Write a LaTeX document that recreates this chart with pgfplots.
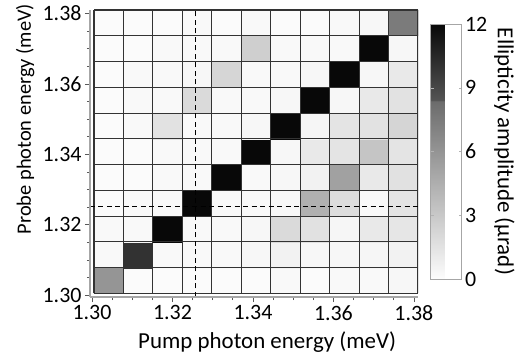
\documentclass[border=0pt]{standalone}
\usepackage{fontspec}
\setmainfont{Carlito}
\usepackage{pgfplots}
\pgfplotsset{compat=1.18}
\begin{document}
\begin{tikzpicture}
\begin{axis}[
  name=main,
  scale only axis,
  width=328bp, height=287bp,
  xmin=1.2995, xmax=1.38102, ymin=1.2995, ymax=1.38102,
  axis x line*=bottom, axis y line*=left,
  xtick={1.30,1.32,1.34,1.36,1.38},
  ytick={1.30,1.32,1.34,1.36,1.38},
  minor tick num=3,
  tick align=outside,
  major tick length=5bp, minor tick length=3bp,
  tick style={gray!70!black, line width=0.8bp},
  axis line style={gray!70, line width=1.2bp},
  /pgf/number format/assume math mode=true,
  xticklabel style={/pgf/number format/fixed, /pgf/number format/fixed zerofill, /pgf/number format/precision=2},
  yticklabel style={/pgf/number format/fixed, /pgf/number format/fixed zerofill, /pgf/number format/precision=2},
  every tick label/.append style={font=\fontsize{22}{24}\selectfont},
  xlabel={Pump photon energy (meV)},
  ylabel={Probe photon energy (meV)},
  xlabel style={font=\fontsize{23}{26}\selectfont, at={(axis description cs:0.54,-0.178)}, anchor=base},
  ylabel style={font=\fontsize{20.5}{24}\selectfont, at={(axis description cs:-0.18,0.62)}, anchor=base, rotate=0},
  colormap={ell}{gray(0cm)=(0.99); gray(8.4cm)=(0.42); gray(8.41cm)=(0.33); gray(12cm)=(0.03)},
  point meta min=0, point meta max=12,
  axis on top,
  colorbar,
  colorbar style={
    width=31bp, height=255bp,
    at={(parent axis.east)}, anchor=west, xshift=4bp, yshift=2bp,
    minor tick num=0,
    ytick={0,3,6,9,12},
    yticklabels={0,3,6,9,12},
    yticklabel style={font=\fontsize{22}{24}\selectfont},
    ylabel={Ellipticity amplitude (µrad)},
    ylabel style={font=\fontsize{23}{26}\selectfont, rotate=180},
    axis line style={gray!70, line width=0.8bp},
    major tick length=3bp,
    tick style={gray!60},
  },
]
\addplot[matrix plot*, mesh/cols=11, point meta=explicit] table[meta=v] {
x y v
1.30416 1.30416 6.0
1.31148 1.30416 0.1
1.31880 1.30416 0.1
1.32612 1.30416 0.1
1.33344 1.30416 0.1
1.34076 1.30416 0.1
1.34808 1.30416 0.2
1.35540 1.30416 0.1
1.36272 1.30416 0.2
1.37004 1.30416 0.2
1.37736 1.30416 0.3
1.30416 1.31148 0.2
1.31148 1.31148 10.0
1.31880 1.31148 0.2
1.32612 1.31148 0.2
1.33344 1.31148 0.2
1.34076 1.31148 0.3
1.34808 1.31148 0.6
1.35540 1.31148 0.3
1.36272 1.31148 0.3
1.37004 1.31148 0.4
1.37736 1.31148 0.6
1.30416 1.31880 0.2
1.31148 1.31880 0.2
1.31880 1.31880 12
1.32612 1.31880 0.2
1.33344 1.31880 0.2
1.34076 1.31880 0.3
1.34808 1.31880 2.0
1.35540 1.31880 1.6
1.36272 1.31880 0.4
1.37004 1.31880 1.1
1.37736 1.31880 1.3
1.30416 1.32612 0.1
1.31148 1.32612 0.2
1.31880 1.32612 0.2
1.32612 1.32612 12
1.33344 1.32612 0.2
1.34076 1.32612 0.2
1.34808 1.32612 0.3
1.35540 1.32612 4.4
1.36272 1.32612 1.8
1.37004 1.32612 0.2
1.37736 1.32612 1.4
1.30416 1.33344 0.1
1.31148 1.33344 0.1
1.31880 1.33344 0.2
1.32612 1.33344 0.2
1.33344 1.33344 12
1.34076 1.33344 0.2
1.34808 1.33344 0.3
1.35540 1.33344 0.6
1.36272 1.33344 5.3
1.37004 1.33344 1.1
1.37736 1.33344 1.6
1.30416 1.34076 0.1
1.31148 1.34076 0.1
1.31880 1.34076 0.2
1.32612 1.34076 0.2
1.33344 1.34076 0.2
1.34076 1.34076 12
1.34808 1.34076 0.3
1.35540 1.34076 1.1
1.36272 1.34076 1.4
1.37004 1.34076 3.2
1.37736 1.34076 1.4
1.30416 1.34808 0.1
1.31148 1.34808 0.2
1.31880 1.34808 1.5
1.32612 1.34808 0.2
1.33344 1.34808 0.2
1.34076 1.34808 0.3
1.34808 1.34808 12
1.35540 1.34808 0.4
1.36272 1.34808 1.4
1.37004 1.34808 1.5
1.37736 1.34808 2.3
1.30416 1.35540 0.1
1.31148 1.35540 0.2
1.31880 1.35540 0.2
1.32612 1.35540 2.0
1.33344 1.35540 0.2
1.34076 1.35540 0.2
1.34808 1.35540 0.3
1.35540 1.35540 12
1.36272 1.35540 0.3
1.37004 1.35540 1.1
1.37736 1.35540 1.5
1.30416 1.36272 0.1
1.31148 1.36272 0.2
1.31880 1.36272 0.2
1.32612 1.36272 0.3
1.33344 1.36272 2.2
1.34076 1.36272 0.2
1.34808 1.36272 0.2
1.35540 1.36272 0.3
1.36272 1.36272 12
1.37004 1.36272 0.3
1.37736 1.36272 1.1
1.30416 1.37004 0.1
1.31148 1.37004 0.1
1.31880 1.37004 0.2
1.32612 1.37004 0.2
1.33344 1.37004 0.2
1.34076 1.37004 2.6
1.34808 1.37004 0.2
1.35540 1.37004 0.2
1.36272 1.37004 0.2
1.37004 1.37004 12
1.37736 1.37004 0.3
1.30416 1.37736 0.1
1.31148 1.37736 0.1
1.31880 1.37736 0.1
1.32612 1.37736 0.2
1.33344 1.37736 0.1
1.34076 1.37736 0.2
1.34808 1.37736 0.1
1.35540 1.37736 0.1
1.36272 1.37736 0.2
1.37004 1.37736 0.3
1.37736 1.37736 7.5
};
\addplot[black!80, line width=1.1bp, unbounded coords=jump] coordinates {
(1.3005,1.3005) (1.3005,1.38102) (nan,nan)
(1.30782,1.3005) (1.30782,1.38102) (nan,nan)
(1.31514,1.3005) (1.31514,1.38102) (nan,nan)
(1.32246,1.3005) (1.32246,1.38102) (nan,nan)
(1.32978,1.3005) (1.32978,1.38102) (nan,nan)
(1.3371,1.3005) (1.3371,1.38102) (nan,nan)
(1.34442,1.3005) (1.34442,1.38102) (nan,nan)
(1.35174,1.3005) (1.35174,1.38102) (nan,nan)
(1.35906,1.3005) (1.35906,1.38102) (nan,nan)
(1.36638,1.3005) (1.36638,1.38102) (nan,nan)
(1.3737,1.3005) (1.3737,1.38102) (nan,nan)
(1.38102,1.3005) (1.38102,1.38102)
};
\addplot[black!80, line width=1.1bp, unbounded coords=jump] coordinates {
(1.3005,1.3005) (1.38102,1.3005) (nan,nan)
(1.3005,1.30782) (1.38102,1.30782) (nan,nan)
(1.3005,1.31514) (1.38102,1.31514) (nan,nan)
(1.3005,1.32246) (1.38102,1.32246) (nan,nan)
(1.3005,1.32978) (1.38102,1.32978) (nan,nan)
(1.3005,1.3371) (1.38102,1.3371) (nan,nan)
(1.3005,1.34442) (1.38102,1.34442) (nan,nan)
(1.3005,1.35174) (1.38102,1.35174) (nan,nan)
(1.3005,1.35906) (1.38102,1.35906) (nan,nan)
(1.3005,1.36638) (1.38102,1.36638) (nan,nan)
(1.3005,1.3737) (1.38102,1.3737) (nan,nan)
(1.3005,1.38102) (1.38102,1.38102)
};
\addplot[black, line width=1.3bp, dash pattern=on 5bp off 3.5bp] coordinates {(1.3257,1.2995) (1.3257,1.38102)};
\addplot[black, line width=1.3bp, dash pattern=on 5bp off 3.5bp] coordinates {(1.2995,1.3253) (1.38102,1.3253)};
\end{axis}
\pgfresetboundingbox
\path[use as bounding box] ([shift={(-90bp,-62bp)}]main.south west) rectangle ([shift={(102bp,10bp)}]main.north east);
\end{tikzpicture}
\end{document}
